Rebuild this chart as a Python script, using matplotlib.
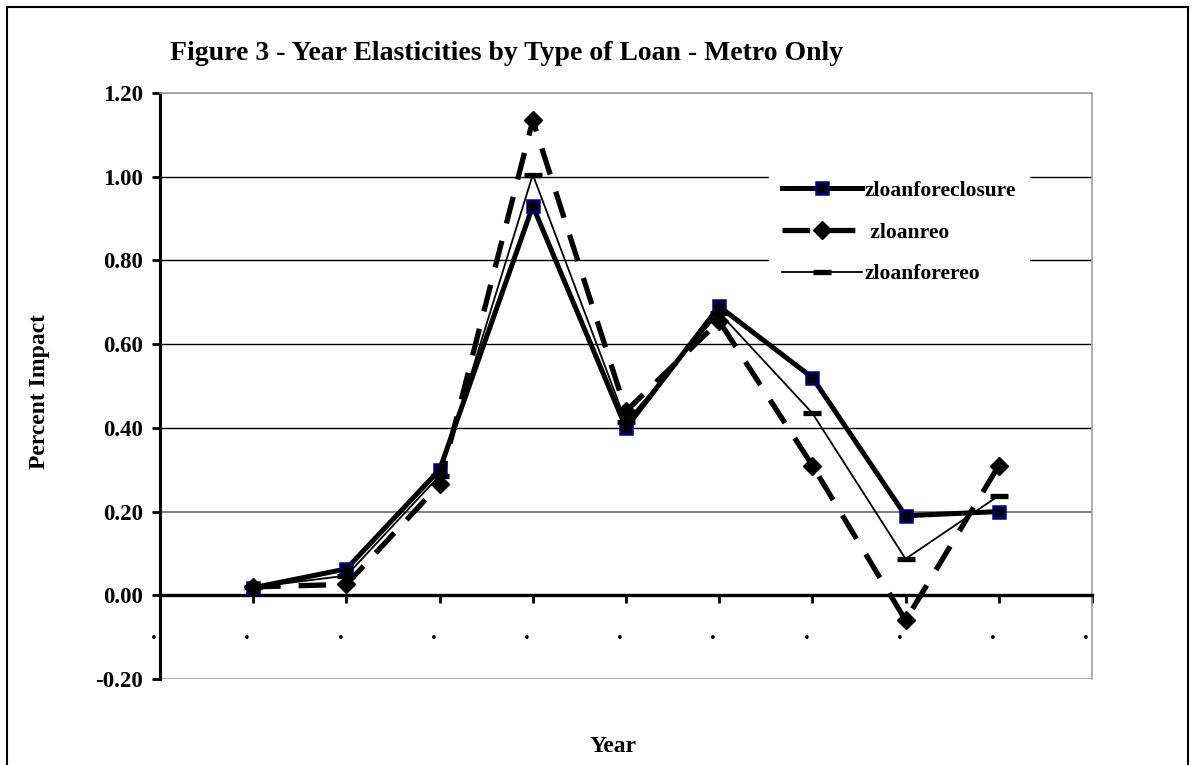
import matplotlib
matplotlib.use("Agg")
import matplotlib.pyplot as plt
import matplotlib.transforms as mtransforms
from matplotlib.patches import Rectangle

# Category slots on the year axis; the estimates sit on slots 1..9
slots = list(range(11))
slot_labels = ["."] * 11
year_pos = [1, 2, 3, 4, 5, 6, 7, 8, 9]

zloanforeclosure = [0.018, 0.063, 0.30, 0.93, 0.40, 0.69, 0.52, 0.19, 0.20]
zloanreo = [0.020, 0.026, 0.265, 1.135, 0.44, 0.655, 0.31, -0.06, 0.31]
zloanforereo = [0.019, 0.047, 0.286, 1.005, 0.414, 0.675, 0.435, 0.087, 0.238]

y_ticks = [-0.20, 0.00, 0.20, 0.40, 0.60, 0.80, 1.00, 1.20]

title = "Figure 3 - Year Elasticities by Type of Loan - Metro Only"

plt.rcParams["font.family"] = ["Liberation Serif", "DejaVu Serif"]
plt.rcParams["font.weight"] = "bold"

W, H = 1194, 765
fig = plt.figure(figsize=(W / 100, H / 100), dpi=100)

# outer chart frame
fig.patches.append(Rectangle((7 / W, -0.05), (1188 - 7) / W, 1.05 - 7 / H,
                             transform=fig.transFigure, fill=False,
                             edgecolor="black", linewidth=1.5))

ax = fig.add_axes([160 / W, 1 - 679 / H, (1092 - 160) / W, (679 - 93) / H])
ax.set_xlim(0, 10)
ax.set_ylim(-0.20, 1.20)

# horizontal gridlines
for v in y_ticks[2:]:
    col = "#808080" if v in (0.20, 1.20) else "black"
    lw = 1.4 if v in (0.20, 1.20) else 1.0
    ax.axhline(v, color=col, linewidth=lw, zorder=1)
ax.axhline(-0.20, color="#a0a0a0", linewidth=1.2, zorder=1)

ax.plot(year_pos, zloanforeclosure, color="black", linewidth=3.6,
        marker="s", markersize=8, markerfacecolor="black",
        markeredgecolor="#000080", markeredgewidth=1.8, zorder=4,
        label="zloanforeclosure")
ax.plot(year_pos, zloanreo, color="black", linewidth=3.8,
        linestyle=(0, (5.2, 3.4)), dash_capstyle="butt",
        marker="D", markersize=9, markerfacecolor="black",
        markeredgecolor="black", zorder=5, label=" zloanreo")
ax.plot(year_pos, zloanforereo, color="black", linewidth=1.3,
        marker="_", markersize=13, markeredgewidth=3.8, zorder=6,
        label="zloanforereo")

# axes styling
for side in ("top", "right"):
    ax.spines[side].set_color("#a0a0a0")
    ax.spines[side].set_linewidth(1.2)
ax.spines["left"].set_linewidth(2.2)
ax.spines["bottom"].set_position(("data", 0))
ax.spines["bottom"].set_linewidth(2.4)

ax.set_yticks(y_ticks)
ax.set_yticklabels([f"{v:.2f}" for v in y_ticks])
ax.set_xticks(slots)
ax.set_xticklabels(slot_labels)
ax.tick_params(axis="y", direction="out", length=6, width=2, labelsize=16.5, pad=6)
ax.tick_params(axis="x", direction="out", length=6, width=2, labelsize=16.5, pad=14)
shift = mtransforms.ScaledTranslation(-6 / 100, 0, fig.dpi_scale_trans)
for t in ax.get_xticklabels():
    t.set_transform(t.get_transform() + shift)
for t in ax.get_xticklabels() + ax.get_yticklabels():
    t.set_fontweight("bold")

leg = ax.legend(loc="upper left",
                bbox_to_anchor=((769 - 160) / 932, 1 - (168 - 93) / 586),
                borderaxespad=0, frameon=True, fancybox=False, framealpha=1,
                edgecolor="white", fontsize=15.5, handlelength=3.7,
                handletextpad=0.15, labelspacing=1.0, borderpad=0.6)
for t in leg.get_texts():
    t.set_fontweight("bold")

fig.text(170 / W, 1 - 53 / H, title, fontsize=20, fontweight="bold",
         ha="left", va="center")
fig.text(613 / W, 1 - 746 / H, "Year", fontsize=17, fontweight="bold",
         ha="center", va="center")
fig.text(40 / W, 1 - 392 / H, "Percent Impact", fontsize=17, fontweight="bold",
         ha="center", va="center", rotation=90)

fig.savefig("out.png", dpi=100)
